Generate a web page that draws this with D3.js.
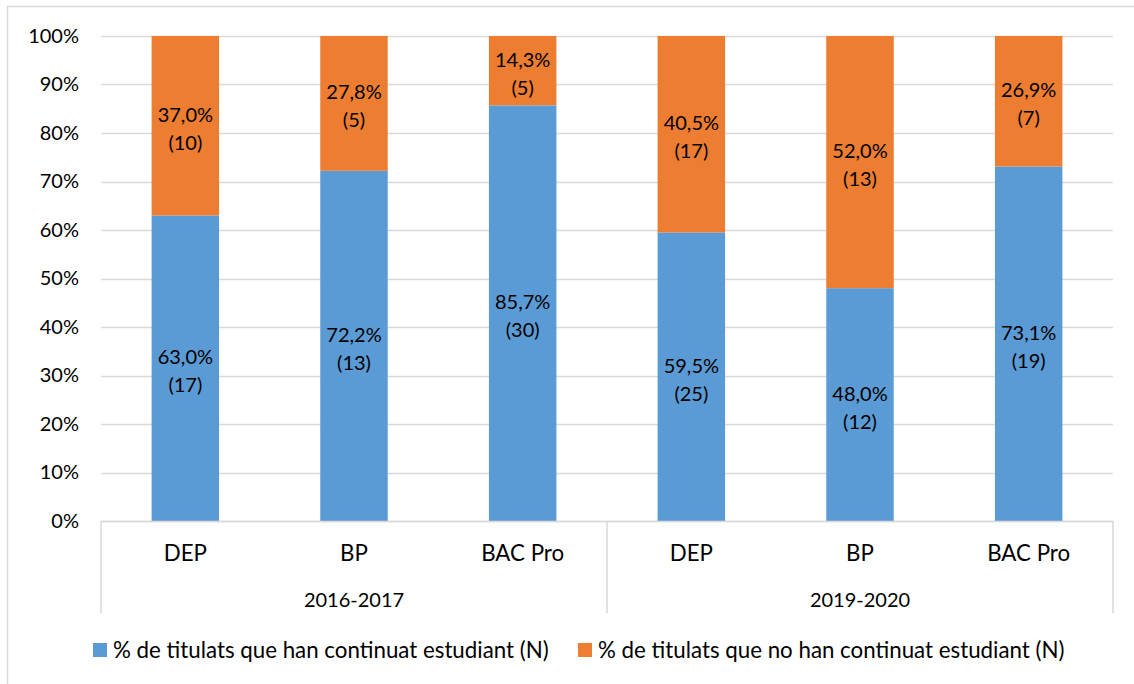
<!DOCTYPE html>
<html><head><meta charset="utf-8">
<script src="https://cdn.jsdelivr.net/npm/d3@7"></script>
<style>
html,body{margin:0;padding:0;background:#fff;}
svg{display:block;font-family:Lato,"Open Sans",sans-serif;}
</style></head>
<body><svg id="c" width="1134" height="684"></svg>
<script>
const years = ["2016-2017", "2019-2020"];
const types = ["DEP", "BP", "BAC Pro"];
const contPct = [63.0, 72.2, 85.7, 59.5, 48.0, 73.1];
const contN = [17, 13, 30, 25, 12, 19];
const noPct = [37.0, 27.8, 14.3, 40.5, 52.0, 26.9];
const noN = [10, 5, 5, 17, 13, 7];
const seriesNames = ["% de titulats que han continuat estudiant (N)", "% de titulats que no han continuat estudiant (N)"];
const colors = ["#5B9BD5", "#ED7D31"];
const yTicks = [0,10,20,30,40,50,60,70,80,90,100];

const svg = d3.select("#c");
const L = 101, R = 1113, T = 36, B = 521;
const FS = 20, FT = 22.3;

// outer border
svg.append("rect").attr("x",7.5).attr("y",6.5).attr("width",1140).attr("height",700)
  .attr("fill","none").attr("stroke","#D9D9D9").attr("stroke-width",1.5);

const cats = [];
years.forEach(y => types.forEach(t => cats.push(y + "|" + t)));
const x = d3.scaleBand().domain(cats).range([L, R]).paddingInner(0.6).paddingOuter(0.3);
const y = d3.scaleLinear().domain([0, 100]).range([B, T]);

// gridlines
svg.append("g").selectAll("line").data(yTicks).join("line")
  .attr("x1", L).attr("x2", R).attr("y1", d => Math.round(y(d)) + 0.5).attr("y2", d => Math.round(y(d)) + 0.5)
  .attr("stroke", "#D9D9D9").attr("stroke-width", 1.5);

// y axis labels
const yAxis = d3.axisLeft(y).tickValues(yTicks).tickFormat(d => d + "%").tickSize(0).tickPadding(22);
const ga = svg.append("g").attr("transform", `translate(${L},0)`).call(yAxis);
ga.select(".domain").remove();
ga.selectAll("text").attr("font-size", FS).attr("font-family", "Lato").attr("fill", "#000");

// stacks
const rows = cats.map((c, i) => ({cat: c, cont: contPct[i], no: noPct[i], cN: contN[i], nN: noN[i]}));
const stack = d3.stack().keys(["cont", "no"]);
const stacked = stack(rows);
const fmt = v => v.toFixed(1).replace(".", ",") + "%";

stacked.forEach((s, si) => {
  svg.append("g").selectAll("rect").data(s).join("rect")
    .attr("x", d => x(d.data.cat)).attr("width", x.bandwidth())
    .attr("y", d => y(Math.min(d[1], 100))).attr("height", d => y(d[0]) - y(Math.min(d[1], 100)))
    .attr("fill", colors[si]);
  const lg = svg.append("g").selectAll("text").data(s).join("text")
    .attr("text-anchor", "middle").attr("font-size", FS).attr("fill", "#000")
    .attr("x", d => x(d.data.cat) + x.bandwidth() / 2)
    .attr("y", d => y((d[0] + Math.min(d[1], 100)) / 2));
  lg.append("tspan").attr("x", d => x(d.data.cat) + x.bandwidth() / 2).attr("dy", "-0.2em")
    .text(d => fmt(si === 0 ? d.data.cont : d.data.no));
  lg.append("tspan").attr("x", d => x(d.data.cat) + x.bandwidth() / 2).attr("dy", "1.4em")
    .text(d => "(" + (si === 0 ? d.data.cN : d.data.nN) + ")");
});

// category axis
const gx = svg.append("g");
gx.append("line").attr("x1", L).attr("x2", R).attr("y1", B + 0.5).attr("y2", B + 0.5).attr("stroke", "#D9D9D9").attr("stroke-width", 1.5);
const groupW = (R - L) / years.length;
const seps = d3.range(years.length + 1).map(i => L + i * groupW);
gx.selectAll("line.sep").data(seps).join("line").attr("class", "sep")
  .attr("x1", d => d).attr("x2", d => d).attr("y1", B).attr("y2", 613)
  .attr("stroke", "#D9D9D9").attr("stroke-width", 1.5);
gx.selectAll("text.cat").data(cats).join("text").attr("class", "cat")
  .attr("x", d => x(d) + x.bandwidth() / 2).attr("y", 561)
  .attr("text-anchor", "middle").attr("font-size", FT).attr("fill", "#000")
  .text(d => d.split("|")[1]);
gx.selectAll("text.yr").data(years).join("text").attr("class", "yr")
  .attr("x", (d, i) => L + (i + 0.5) * groupW).attr("y", 607)
  .attr("text-anchor", "middle").attr("font-size", FS).attr("fill", "#000")
  .text(d => d);

// legend
const leg = svg.append("g");
const legX = [93, 578];
seriesNames.forEach((n, i) => {
  leg.append("rect").attr("x", legX[i]).attr("y", 643).attr("width", 14).attr("height", 14).attr("fill", colors[i]);
  leg.append("text").attr("x", legX[i] + 20).attr("y", 658).attr("font-size", FT).attr("fill", "#000").text(n);
});
</script></body></html>
